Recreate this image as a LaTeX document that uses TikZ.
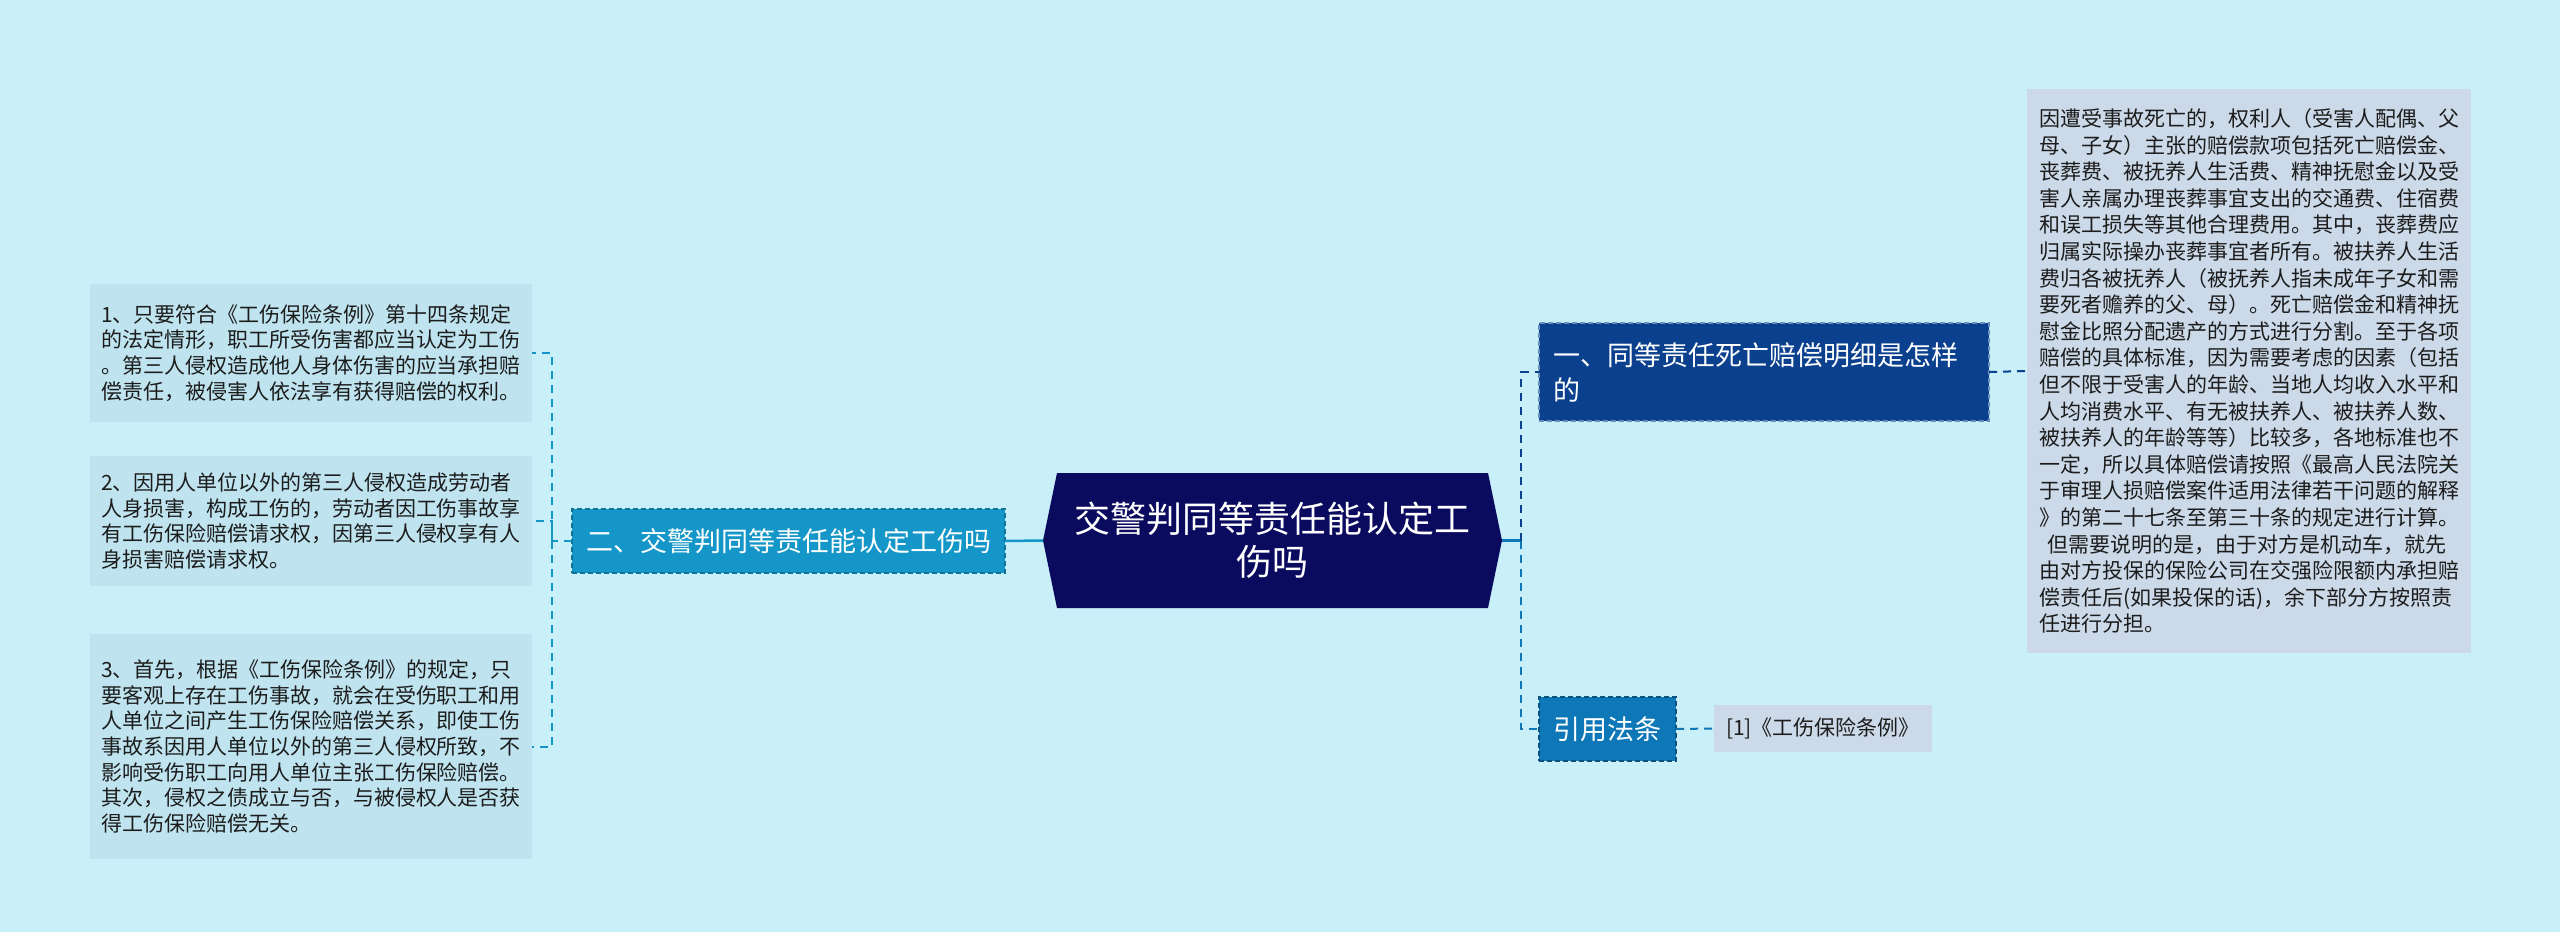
\documentclass[tikz,border=0pt]{standalone}
\usepackage{fontspec}
\setmainfont{Noto Sans CJK SC}
\usetikzlibrary{calc}
\definecolor{bgc}{HTML}{C9EFF8}
\definecolor{navy}{HTML}{0A0A5E}
\definecolor{darkb}{HTML}{0A408D}
\definecolor{midb}{HTML}{0E77B7}
\definecolor{cyanb}{HTML}{1497C8}
\definecolor{leafl}{HTML}{BFE4F0}
\definecolor{leafr}{HTML}{CBD9E8}
\definecolor{txt}{HTML}{1C1C1C}
\begin{document}
\begin{tikzpicture}[x=1pt,y=-1pt,
  box/.style={anchor=north west,inner ysep=0pt,outer sep=0pt},
  lbox/.style={box,fill=leafl,text=txt,font=\fontsize{21}{25.6}\selectfont,align=left,inner xsep=11pt,text width=420pt},
  rbox/.style={box,fill=leafr,text=txt,font=\fontsize{21}{26.6}\selectfont,align=left,inner xsep=12pt,text width=420pt},
  topic/.style={box,text=white,font=\fontsize{27}{35}\selectfont,draw,dashed,line width=1.2pt,dash pattern=on 5pt off 3pt},
  lnk/.style={line width=2pt,dash pattern=on 8pt off 6pt},
  solidlnk/.style={line width=2.5pt}]
\fill[bgc] (0,0) rectangle (2560,932);
\useasboundingbox (0,0) rectangle (2560,932);

% central node
\node[box,minimum width=431pt,minimum height=135pt] (c) at (1057,473) {};
\fill[navy] (c.north west) -- (c.north east) -- ($(c.east)+(14,0)$) -- (c.south east) -- (c.south west) -- ($(c.west)+(-14,0)$) -- cycle;
\coordinate (cl) at ($(c.west)+(-14,0)$);
\coordinate (cr) at ($(c.east)+(14,0)$);
\node[text=white,font=\fontsize{36}{43}\selectfont,align=center] (ct) at (c.center) {交警判同等责任能认定工\\伤吗};

% left topic
\node[topic,fill=cyanb,draw=cyanb!75!black,minimum width=433pt,minimum height=64pt] (n2) at (572,509) {二、交警判同等责任能认定工伤吗};

% left leaves
\node[lbox,minimum height=138pt] (b1) at (90,284) {1、只要符合《工伤保险条例》第十四条规定\\的法定情形，职工所受伤害都应当认定为工伤\\。第三人侵权造成他人身体伤害的应当承担赔\\偿责任，被侵害人依法享有获得赔偿的权利。};
\node[lbox,minimum height=130pt] (b2) at (90,456) {2、因用人单位以外的第三人侵权造成劳动者\\人身损害，构成工伤的，劳动者因工伤事故享\\有工伤保险赔偿请求权，因第三人侵权享有人\\身损害赔偿请求权。};
\node[lbox,minimum height=225pt] (b3) at (90,634) {3、首先，根据《工伤保险条例》的规定，只\\要客观上存在工伤事故，就会在受伤职工和用\\人单位之间产生工伤保险赔偿关系，即使工伤\\事故系因用人单位以外的第三人侵权所致，不\\影响受伤职工向用人单位主张工伤保险赔偿。\\其次，侵权之债成立与否，与被侵权人是否获\\得工伤保险赔偿无关。};

% right topics
\node[topic,fill=darkb,draw=darkb!60!white,minimum width=450pt,minimum height=98pt,align=left,text width=422pt,inner xsep=14pt] (n1) at (1539,323) {一、同等责任死亡赔偿明细是怎样\\的};
\node[topic,fill=midb,draw=midb!70!black,minimum width=137pt,minimum height=64pt] (n3) at (1539,697) {引用法条};

% right leaves
\node[rbox,minimum height=564pt] (b4) at (2027,89) {因遭受事故死亡的，权利人（受害人配偶、父\\母、子女）主张的赔偿款项包括死亡赔偿金、\\丧葬费、被抚养人生活费、精神抚慰金以及受\\害人亲属办理丧葬事宜支出的交通费、住宿费\\和误工损失等其他合理费用。其中，丧葬费应\\归属实际操办丧葬事宜者所有。被扶养人生活\\费归各被抚养人（被抚养人指未成年子女和需\\要死者赡养的父、母）。死亡赔偿金和精神抚\\慰金比照分配遗产的方式进行分割。至于各项\\赔偿的具体标准，因为需要考虑的因素（包括\\但不限于受害人的年龄、当地人均收入水平和\\人均消费水平、有无被扶养人、被扶养人数、\\被扶养人的年龄等等）比较多，各地标准也不\\一定，所以具体赔偿请按照《最高人民法院关\\于审理人损赔偿案件适用法律若干问题的解释\\》的第二十七条至第三十条的规定进行计算。\\\hspace*{0.4em}但需要说明的是，由于对方是机动车，就先\\由对方投保的保险公司在交强险限额内承担赔\\偿责任后(如果投保的话)，余下部分方按照责\\任进行分担。};
\node[box,fill=leafr,text=txt,font=\fontsize{21}{26}\selectfont,inner xsep=12pt,minimum width=216pt,minimum height=47pt] (b5) at (1714,705) {[1]《工伤保险条例》};

% connectors left
\draw[cyanb,solidlnk] (cl) -- (n2.east);
\coordinate (lt) at ($(n2.west)+(-20,0)$);
\draw[cyanb,lnk] (n2.west) -- (lt) |- (b1.east);
\draw[cyanb,lnk] (lt) |- (b2.east);
\draw[cyanb,lnk] (lt) |- (b3.east);

% connectors right
\coordinate (rt) at ($(cr)+(19,0)$);
\draw[midb,solidlnk] (cr) -- (rt);
\draw[darkb,lnk] (rt) |- (n1.west);
\draw[midb,lnk] (rt) |- (n3.west);
\draw[darkb,lnk] (n1.east) -- (b4.west);
\draw[midb,lnk] (n3.east) -- (b5.west);
\end{tikzpicture}
\end{document}
